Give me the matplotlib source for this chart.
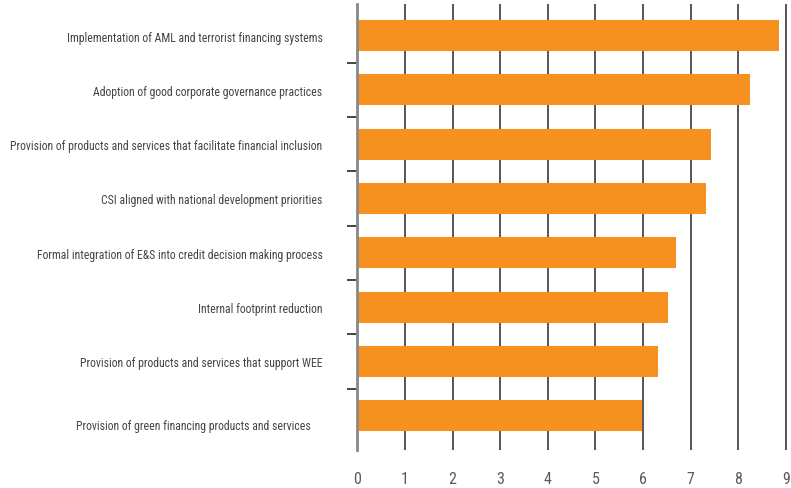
import matplotlib
matplotlib.use("Agg")
import matplotlib.pyplot as plt
import matplotlib.transforms as mtransforms
from matplotlib import font_manager

categories = [
    "Implementation of AML and terrorist financing systems",
    "Adoption of good corporate governance practices",
    "Provision of products and services that facilitate financial inclusion",
    "CSI aligned with national development priorities",
    "Formal integration of E&S into credit decision making process",
    "Internal footprint reduction",
    "Provision of products and services that support WEE",
    "Provision of green financing products and services",
]
values = [8.86, 8.25, 7.43, 7.33, 6.70, 6.53, 6.32, 5.98]
xticks = [0, 1, 2, 3, 4, 5, 6, 7, 8, 9]

names = {f.name for f in font_manager.fontManager.ttflist}
fam = "Liberation Sans Narrow" if "Liberation Sans Narrow" in names else "Roboto Condensed" if "Roboto Condensed" in names else "DejaVu Sans"
plt.rcParams["font.family"] = [fam, "DejaVu Sans"]

fig = plt.figure(figsize=(7.91, 4.89), dpi=100)
W, H = 791, 489
left, right, top, bottom = 357.3, 786.5, 5, 451
ax = fig.add_axes([left / W, 1 - bottom / H, (right - left) / W, (bottom - top) / H])

pos = list(range(len(categories)))
ax.barh(pos, values, height=0.57, color="#F6901E", zorder=3)

x9 = (right - left) / (785.7 - 357.3) * 9
ax.set_xlim(0, x9)
ax.set_ylim(7.63, -0.58)

ax.set_xticks(xticks)
ax.set_xticklabels([str(t) for t in xticks])
ax.grid(axis="x", color="#555555", lw=1.4, zorder=0)
ax.set_axisbelow(True)
ax.tick_params(axis="x", length=0, pad=15, labelsize=11.5, labelcolor="#5a5a5a")

ax.set_yticks(pos)
ax.set_yticklabels(categories)
ax.tick_params(axis="y", which="major", length=0, pad=25, labelsize=8.5, labelcolor="#444444")
ax.set_yticks([p + 0.5 for p in pos[:-1]], minor=True)
ax.tick_params(axis="y", which="minor", length=7.2, width=1.4, color="#444444", direction="out")

for s in ["top", "right", "bottom"]:
    ax.spines[s].set_visible(False)
ax.spines["left"].set_color("#888888")
ax.spines["left"].set_linewidth(2)
ax.spines["left"].set_zorder(4)

lab = ax.get_yticklabels()[-1]
lab.set_transform(lab.get_transform() + mtransforms.ScaledTranslation(-12 / 100, -8 / 100, fig.dpi_scale_trans))

fig.savefig("out.png", dpi=100)
